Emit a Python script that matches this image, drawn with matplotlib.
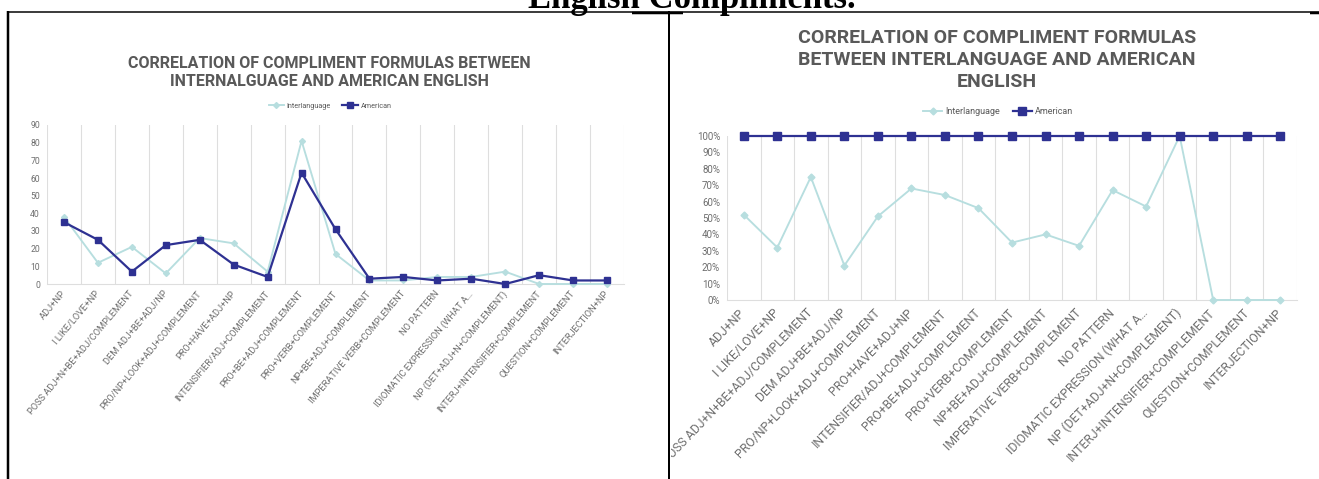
import numpy as np
import matplotlib
matplotlib.use("Agg")
import matplotlib.pyplot as plt
import matplotlib.transforms as mtransforms
from matplotlib.lines import Line2D
from matplotlib.ticker import FuncFormatter

# data
categories = ["ADJ+NP", "I LIKE/LOVE+NP", "POSS ADJ+N+BE+ADJ/COMPLEMENT", "DEM ADJ+BE+ADJ/NP",
              "PRO/NP+LOOK+ADJ+COMPLEMENT", "PRO+HAVE+ADJ+NP", "INTENSIFIER/ADJ+COMPLEMENT",
              "PRO+BE+ADJ+COMPLEMENT", "PRO+VERB+COMPLEMENT", "NP+BE+ADJ+COMPLEMENT",
              "IMPERATIVE VERB+COMPLEMENT", "NO PATTERN", "IDIOMATIC EXPRESSION (WHAT A…",
              "NP (DET+ADJ+N+COMPLEMENT)", "INTERJ+INTENSIFIER+COMPLEMENT", "QUESTION+COMPLEMENT",
              "INTERJECTION+NP"]
inter_counts = [38, 12, 21, 6, 26, 23, 7, 81, 17, 2, 2, 4, 4, 7, 0, 0, 0]
amer_counts = [35, 25, 7, 22, 25, 11, 4, 63, 31, 3, 4, 2, 3, 0, 5, 2, 2]
left_yticks = [0, 10, 20, 30, 40, 50, 60, 70, 80, 90]

inter_pct = [52, 32, 75, 21, 51, 68, 64, 56, 35, 40, 33, 67, 57, 100, 0, 0, 0]
amer_pct = [100, 100, 100, 100, 100, 100, 100, 100, 100, 100, 100, 100, 100, 100, 100, 100, 100]
right_yticks = [0, 10, 20, 30, 40, 50, 60, 70, 80, 90, 100]

left_title = "CORRELATION OF COMPLIMENT FORMULAS BETWEEN\nINTERNALGUAGE AND AMERICAN ENGLISH"
right_title = "CORRELATION OF COMPLIMENT FORMULAS\nBETWEEN INTERLANGUAGE AND AMERICAN\nENGLISH"

W, H = 1319, 479
TEAL = "#b7dedf"
NAVY = "#2e3192"
GRAY = "#595959"
LABEL = "#6e6e6e"
GRID = "#dedede"
FONT = "Roboto"


def fx(px):
    return px / W


def fy(py):
    return 1 - py / H


fig = plt.figure(figsize=(W / 100, H / 100), dpi=100)

# page heading, cut off at the top
fig.text(fx(528), fy(7.5), "English Compliments.", family="Liberation Serif", weight="bold",
         size=25, ha="left", va="baseline")

# table borders
def border(x0, y0, x1, y1, lw):
    fig.add_artist(Line2D([fx(x0), fx(x1)], [fy(y0), fy(y1)], transform=fig.transFigure,
                          color="black", lw=lw * 0.72, solid_capstyle="butt"))

border(7, 11.5, 1319, 11.5, 1.5)
border(632, 12.5, 683, 12.5, 2.5)
border(1310, 12.5, 1319, 12.5, 2.5)
border(8, 11, 8, 479, 2.5)
border(669, 11, 669, 479, 2)


def make_chart(rect, inter, amer, yticks, ylim, ylab_fmt, ysize, xsize, rot, drop, lw, ms_sq, ms_d, clip=None):
    ax = fig.add_axes(rect)
    x = np.arange(len(categories))
    ax.plot(x, inter, color=TEAL, lw=lw * 0.85, marker="D", ms=ms_d, mec=TEAL, mfc=TEAL,
            label="Interlanguage", clip_on=False, zorder=3)
    ax.plot(x, amer, color=NAVY, lw=lw, marker="s", ms=ms_sq, mec=NAVY, mfc=NAVY,
            label="American", clip_on=False, zorder=4)
    ax.set_xlim(-0.5, len(categories) - 0.5)
    ax.set_ylim(*ylim)
    ax.set_yticks(yticks)
    ax.yaxis.set_major_formatter(FuncFormatter(ylab_fmt))
    ax.set_xticks(np.arange(-0.5, len(categories), 1), minor=True)
    ax.set_xticks([])
    ax.grid(which="minor", axis="x", color=GRID, lw=0.8)
    for s in ["top", "right", "left"]:
        ax.spines[s].set_visible(False)
    ax.spines["bottom"].set_color(GRID)
    ax.spines["bottom"].set_linewidth(0.8)
    ax.tick_params(axis="both", which="both", length=0)
    ax.tick_params(axis="y", labelsize=ysize, labelcolor=LABEL, pad=5)
    for t in ax.get_yticklabels():
        t.set_family(FONT)
    off = mtransforms.ScaledTranslation(0, -drop / 100, fig.dpi_scale_trans)
    for i, c in enumerate(categories):
        t = fig.text(i, 0, c, transform=ax.get_xaxis_transform() + off, rotation=rot,
                     rotation_mode="anchor", ha="right", va="center", size=xsize,
                     color=LABEL, family=FONT)
        if clip is not None:
            t.set_clip_box(clip)
            t.set_clip_on(True)
    return ax


# left chart: counts
axl = make_chart([fx(47), fy(284), fx(624) - fx(47), fy(125) - fy(284)],
                 inter_counts, amer_counts, left_yticks, (0, 90),
                 lambda v, p: f"{v:.0f}", 6.2, 6.7, 50, 8, 1.6, 5, 3)
fig.text(fx(329), fy(72.5), left_title, ha="center", va="center", size=11.5, weight="bold",
         color=GRAY, family=FONT, linespacing=1.25)
fig.legend(*axl.get_legend_handles_labels(), loc="center", bbox_to_anchor=(fx(330), fy(106)),
           ncol=2, frameon=False, prop={"family": FONT, "size": 5.2}, labelcolor=GRAY,
           handlelength=2.2, handletextpad=0.3, columnspacing=1.6)

# right chart: 100% stacked
clip_box = mtransforms.Bbox.from_extents(671, 0, W, H)
axr = make_chart([fx(727), fy(300), fx(1297) - fx(727), fy(136) - fy(300)],
                 [v / 100 for v in inter_pct], [v / 100 for v in amer_pct],
                 [v / 100 for v in right_yticks], (0, 1),
                 lambda v, p: f"{v * 100:.0f}%", 7, 8.8, 46, 11, 1.6, 5.8, 3.5, clip=clip_box)
fig.text(fx(997), fy(60), right_title, ha="center", va="center", size=14, weight="bold",
         color=GRAY, family=FONT, linespacing=1.3)
fig.legend(*axr.get_legend_handles_labels(), loc="center", bbox_to_anchor=(fx(998), fy(112)),
           ncol=2, frameon=False, prop={"family": FONT, "size": 6.5}, labelcolor=GRAY,
           handlelength=2.2, handletextpad=0.3, columnspacing=1.4)

fig.savefig("out.png", dpi=100)
